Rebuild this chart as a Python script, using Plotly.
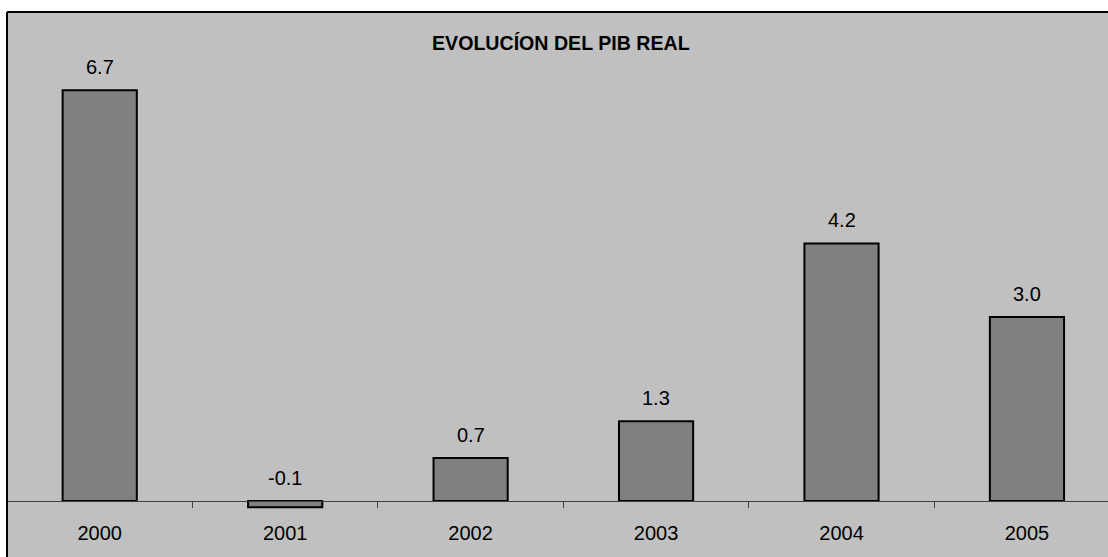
import plotly.graph_objects as go

years = ["2000", "2001", "2002", "2003", "2004", "2005"]
pib_real = [6.7, -0.1, 0.7, 1.3, 4.2, 3.0]
title_text = "EVOLUCÍON DEL PIB REAL"

FONT = "Liberation Sans, Arial, sans-serif"

fig = go.Figure()
fig.add_trace(go.Bar(
    x=years, y=pib_real, width=0.4,
    marker=dict(color="#808080", line=dict(color="#000000", width=2)),
    hoverinfo="skip", showlegend=False,
))

annotations = []
for i, v in enumerate(pib_real):
    annotations.append(dict(
        x=i, y=max(v, 0), xref="x", yref="y", text=f"{v:.1f}",
        showarrow=False, yanchor="middle", yshift=23.5,
        font=dict(family=FONT, size=20, color="#000000"),
    ))
annotations.append(dict(
    x=0.503, y=(545 - (43 - 12)) / 545, xref="paper", yref="paper",
    text=f"<b>{title_text}</b>",
    showarrow=False, xanchor="center", yanchor="middle",
    font=dict(family=FONT, size=19.6, color="#000000"),
))

fig.update_layout(
    width=1108, height=557,
    margin=dict(l=7, r=0, t=12, b=0),
    paper_bgcolor="#FFFFFF", plot_bgcolor="#C0C0C0",
    bargap=0.6,
    xaxis=dict(
        type="category", categoryorder="array", categoryarray=years,
        range=[-0.5, 5.437], tickson="boundaries",
        ticks="outside", ticklen=6, tickwidth=1, tickcolor="#404040",
        showline=True, linecolor="#404040", linewidth=1,
        showgrid=False, zeroline=False,
        anchor="free", position=56 / 545,
        ticklabelstandoff=14,
        tickfont=dict(family=FONT, size=20, color="#000000"),
    ),
    yaxis=dict(range=[-56 / 61.3, 489 / 61.3], visible=False,
               showgrid=False, zeroline=False),
    annotations=annotations,
    shapes=[
        dict(type="line", xref="paper", yref="paper", x0=0, x1=0, y0=-0.01, y1=1,
             line=dict(color="#000000", width=2)),
        dict(type="line", xref="paper", yref="paper", x0=0, x1=1.01, y0=1, y1=1,
             line=dict(color="#000000", width=2)),
    ],
)

fig.write_html(
    "out.html",
    config={"displayModeBar": False},
    post_script="document.body.style.margin='0';document.body.style.overflow='hidden';",
)
